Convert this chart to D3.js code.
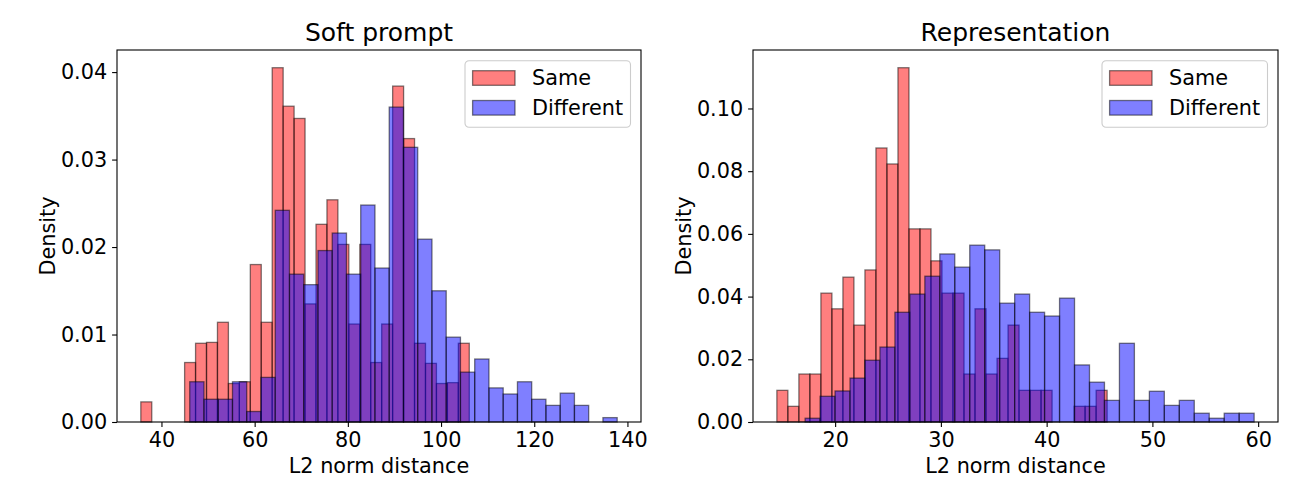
<!DOCTYPE html>
<html lang="en">
<head>
<meta charset="UTF-8">
<title>L2 norm distance histograms</title>
<script src="https://d3js.org/d3.v7.min.js"></script>
<style>
  body { margin: 0; background: #fff; }
  svg text { font-family: "DejaVu Sans", sans-serif; fill: #000; }
</style>
</head>
<body>
<svg id="chart" width="1300" height="500"></svg>
<script>
// first and last bin edge of each histogram (30 bins each)
const softSameRange = [35.57, 106.06];
const softDiffRange = [46.07, 137.8];
const reprSameRange = [14.49, 45.72];
const reprDiffRange = [17.16, 59.62];

// densities per bin
const softSame = [0.0023, 0, 0, 0, 0.0068, 0.0090, 0.0091, 0.0114, 0.0044, 0.0046,
                  0.0180, 0.0114, 0.0405, 0.0361, 0.0347, 0.0135, 0.0226, 0.0254, 0.0203, 0.0112,
                  0.0203, 0.0068, 0.0112, 0.0384, 0.0324, 0.0090, 0.0067, 0.0044, 0.0045, 0.0090];
const softDiff = [0.0046, 0.0026, 0.0026, 0.0046, 0.0012, 0.0051, 0.0242, 0.0169, 0.0157, 0.0196,
                  0.0216, 0.0169, 0.0248, 0.0176, 0.0360, 0.0314, 0.0209, 0.0150, 0.0097, 0.0057,
                  0.0072, 0.0039, 0.0032, 0.0046, 0.0026, 0.0019, 0.0033, 0.0019, 0, 0.0005];
const reprSame = [0.0101, 0.0050, 0.0153, 0.0153, 0.0411, 0.0361, 0.0462, 0.0309, 0.0485, 0.0874,
                  0.0823, 0.1130, 0.0616, 0.0616, 0.0514, 0.0411, 0.0411, 0.0153, 0.0361, 0.0153,
                  0.0203, 0.0309, 0.0101, 0.0101, 0.0101, 0, 0, 0.0050, 0.0050, 0.0101];
const reprDiff = [0.0012, 0.0082, 0.0099, 0.0140, 0.0197, 0.0239, 0.0350, 0.0408, 0.0465, 0.0536,
                  0.0494, 0.0564, 0.0549, 0.0379, 0.0408, 0.0350, 0.0338, 0.0395, 0.0182, 0.0127,
                  0.0069, 0.0251, 0.0069, 0.0098, 0.0053, 0.0069, 0.0028, 0.0012, 0.0028, 0.0028];

const softXTicks = [40, 60, 80, 100, 120, 140];
const softYTicks = [0, 0.01, 0.02, 0.03, 0.04];
const reprXTicks = [20, 30, 40, 50, 60];
const reprYTicks = [0, 0.02, 0.04, 0.06, 0.08, 0.10];

const seriesNames = ["Same", "Different"];
const seriesColors = ["red", "blue"];

const panels = [
  {title: "Soft prompt", ranges: [softSameRange, softDiffRange], values: [softSame, softDiff],
   xTicks: softXTicks, yTicks: softYTicks, left: 117, right: 641},
  {title: "Representation", ranges: [reprSameRange, reprDiffRange], values: [reprSame, reprDiff],
   xTicks: reprXTicks, yTicks: reprYTicks, left: 753, right: 1278}
];

const plotTop = 50, plotBottom = 422;
const svg = d3.select("#chart");

panels.forEach(p => {
  const g = svg.append("g");

  // matplotlib style 5% margins
  const lo = d3.min(p.ranges, r => r[0]), hi = d3.max(p.ranges, r => r[1]);
  const pad = (hi - lo) * 0.05;
  const x = d3.scaleLinear().domain([lo - pad, hi + pad]).range([p.left, p.right]);
  const yMax = d3.max(p.values, v => d3.max(v)) * 1.05;
  const y = d3.scaleLinear().domain([0, yMax]).range([plotBottom, plotTop]);

  // bars
  p.values.forEach((vals, si) => {
    const r = p.ranges[si];
    const w = (r[1] - r[0]) / vals.length;
    const bins = vals.map((v, i) => ({x0: r[0] + i * w, x1: r[0] + (i + 1) * w, v: v}))
                     .filter(b => b.v > 0);
    g.append("g").selectAll("rect")
      .data(bins)
      .join("rect")
      .attr("x", b => x(b.x0))
      .attr("width", b => x(b.x1) - x(b.x0))
      .attr("y", b => y(b.v))
      .attr("height", b => y(0) - y(b.v))
      .attr("fill", seriesColors[si])
      .attr("fill-opacity", 0.5)
      .attr("stroke", "black")
      .attr("stroke-opacity", 0.5)
      .attr("stroke-width", 1.3);
  });

  // axes
  const xAxis = g.append("g")
    .attr("transform", `translate(0,${plotBottom})`)
    .call(d3.axisBottom(x).tickValues(p.xTicks).tickFormat(d3.format("d"))
      .tickSize(4.9).tickPadding(4.9));
  const yAxis = g.append("g")
    .attr("transform", `translate(${p.left},0)`)
    .call(d3.axisLeft(y).tickValues(p.yTicks).tickFormat(d3.format(".2f"))
      .tickSize(4.9).tickPadding(4.9));
  [xAxis, yAxis].forEach(a => {
    a.select(".domain").remove();
    a.selectAll(".tick line").attr("stroke", "black").attr("stroke-width", 1.1);
    a.selectAll(".tick text").style("font-size", "20.8px").attr("font-family", null);
  });

  // frame
  g.append("rect")
    .attr("x", p.left).attr("y", plotTop)
    .attr("width", p.right - p.left).attr("height", plotBottom - plotTop)
    .attr("fill", "none").attr("stroke", "black").attr("stroke-width", 1.1);

  // title and axis labels
  const cx = (p.left + p.right) / 2;
  g.append("text").attr("x", cx).attr("y", 41)
    .attr("text-anchor", "middle").style("font-size", "25px").text(p.title);
  g.append("text").attr("x", cx).attr("y", 473)
    .attr("text-anchor", "middle").style("font-size", "20.8px").text("L2 norm distance");
  g.append("text")
    .attr("transform", `translate(${p.left - 62},${(plotTop + plotBottom) / 2}) rotate(-90)`)
    .attr("text-anchor", "middle").style("font-size", "20.8px").text("Density");

  // legend
  const lw = 165.5, lh = 66.6;
  const lx = p.right - 10.5 - lw, ly = plotTop + 10.7;
  const leg = g.append("g").attr("transform", `translate(${lx},${ly})`);
  leg.append("rect").attr("width", lw).attr("height", lh).attr("rx", 4)
    .attr("fill", "white").attr("fill-opacity", 0.8)
    .attr("stroke", "#cccccc").attr("stroke-width", 1.1);
  seriesNames.forEach((name, i) => {
    leg.append("rect")
      .attr("x", 7.6).attr("y", 10 + i * 29.8)
      .attr("width", 42.4).attr("height", 14.6)
      .attr("fill", seriesColors[i]).attr("fill-opacity", 0.5)
      .attr("stroke", "black").attr("stroke-opacity", 0.5).attr("stroke-width", 1.3);
    leg.append("text")
      .attr("x", 67).attr("y", 24.5 + i * 29.8)
      .style("font-size", "20.8px").text(name);
  });
});
</script>
</body>
</html>
